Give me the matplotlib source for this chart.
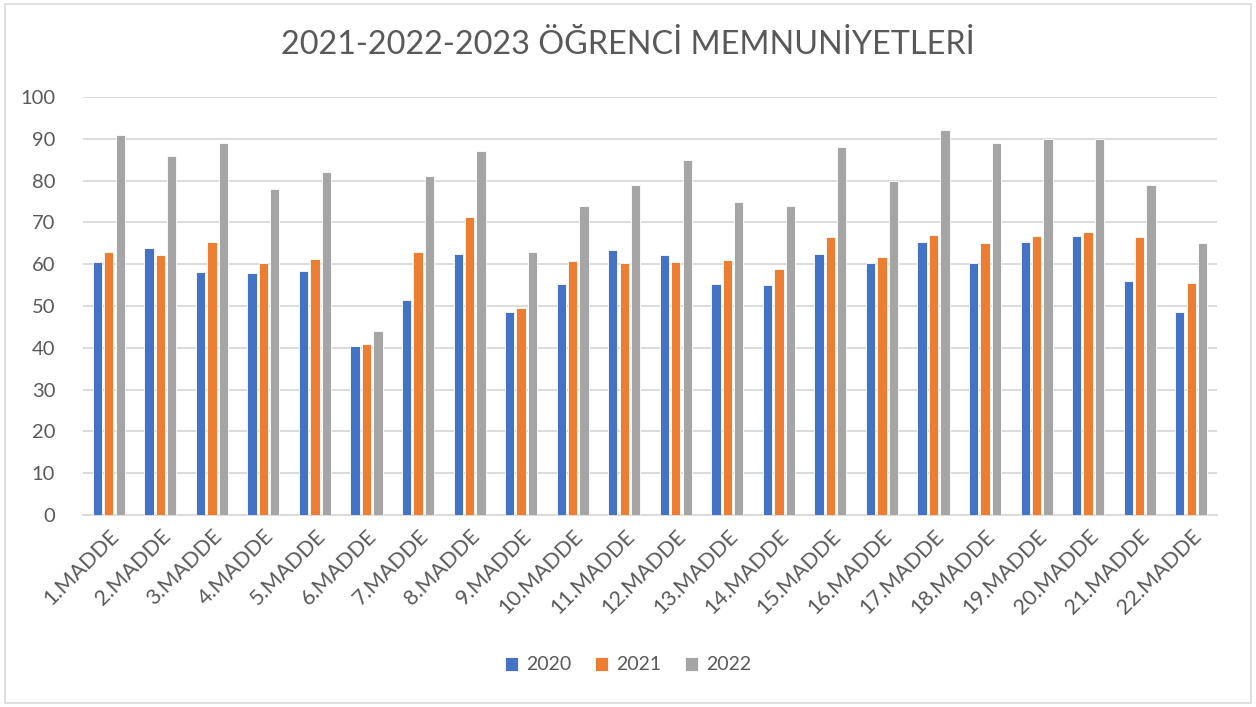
import numpy as np
import matplotlib
matplotlib.use("Agg")
from matplotlib import pyplot as plt
from matplotlib.patches import Rectangle

# data
categories = [str(i) + ".MADDE" for i in range(1, 23)]
years = ["2020", "2021", "2022"]
vals_2020 = [60.5, 63.8, 58.2, 58.0, 58.4, 40.4, 51.4, 62.4, 48.6, 55.2, 63.4,
             62.2, 55.2, 55.0, 62.4, 60.2, 65.2, 60.2, 65.4, 66.8, 55.9, 48.6]
vals_2021 = [63.0, 62.2, 65.4, 60.2, 61.2, 40.9, 62.8, 71.3, 49.6, 60.8, 60.2,
             60.6, 61.0, 58.8, 66.4, 61.8, 67.0, 65.0, 66.8, 67.7, 66.4, 55.4]
vals_2022 = [91, 86, 89, 78, 82, 44, 81, 87, 63, 74, 79,
             85, 75, 74, 88, 80, 92, 89, 90, 90, 79, 65]
colors = ["#4472C4", "#ED7D31", "#A5A5A5"]

plt.rcParams['font.family'] = ['Lato', 'DejaVu Sans']
txt = "#595959"

fig = plt.figure(figsize=(12.56, 7.07), dpi=100)
ax = fig.add_axes([83/1256, 1 - 515/707, (1217-83)/1256, (515-97)/707])

x = np.arange(len(categories))
w = 0.18
step = 0.222
for i, (vals, lab) in enumerate(zip([vals_2020, vals_2021, vals_2022], years)):
    ax.bar(x + (i - 1) * step, vals, width=w, color=colors[i], label=lab,
           edgecolor="white", linewidth=0.6, zorder=3)

ax.set_xlim(-0.5, len(categories) - 0.5)
ax.set_ylim(0, 100)
ax.set_yticks(range(0, 101, 10))
ax.grid(axis='y', color="#D9D9D9", linewidth=1.3, zorder=0)
for s in ["top", "right", "left"]:
    ax.spines[s].set_visible(False)
ax.spines["bottom"].set_color("#D9D9D9")
ax.spines["bottom"].set_linewidth(1.3)
ax.tick_params(axis='both', length=0, labelsize=14.5, colors=txt)
ax.tick_params(axis='y', pad=20)
ax.set_xticks(x)
ax.set_xticklabels(categories, rotation=45, ha="right", rotation_mode="anchor",
                   fontsize=15.5)
ax.tick_params(axis='x', pad=8)

fig.text(0.5, 1 - 45/707, "2021-2022-2023 ÖĞRENCİ MEMNUNİYETLERİ", ha="center",
         va="center", fontsize=23.3, color=txt)

fig.legend(loc="center", bbox_to_anchor=(0.5, 1 - 665/707), ncol=3, frameon=False,
           fontsize=14, labelcolor=txt, handlelength=0.7, handleheight=0.7,
           handletextpad=0.4, columnspacing=1.2)

fig.patches.append(Rectangle((0.004, 0.005), 0.992, 0.99, transform=fig.transFigure,
                             fill=False, edgecolor="#D9D9D9", linewidth=1.2))

plt.savefig("out.png", dpi=100)
